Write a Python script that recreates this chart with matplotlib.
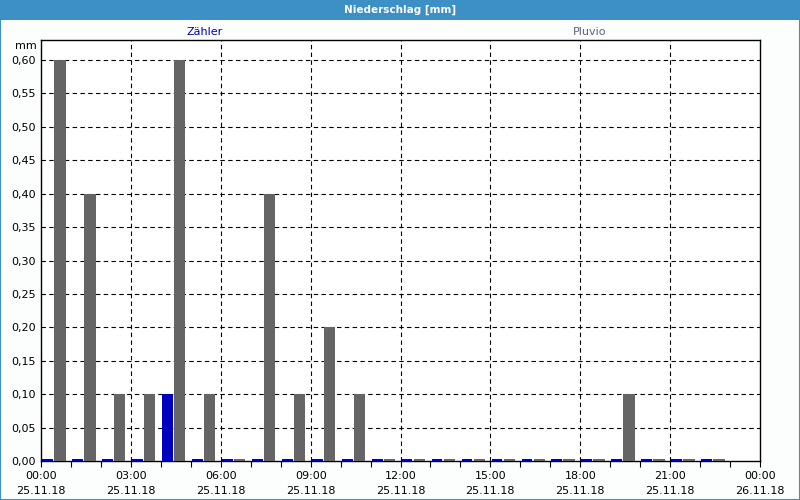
import numpy as np
import matplotlib
matplotlib.use('Agg')
import matplotlib.pyplot as plt
from matplotlib.patches import Rectangle
from matplotlib.ticker import FixedLocator, MultipleLocator, FuncFormatter

# hourly precipitation 25.11.18, mm (nan = no data)
hours = np.arange(24)
zaehler = [0.0, 0.0, 0.0, 0.0, 0.1, 0.0, 0.0, 0.0, 0.0, 0.0, 0.0, 0.0,
           0.0, 0.0, 0.0, 0.0, 0.0, 0.0, 0.0, 0.0, 0.0, 0.0, 0.0, np.nan]
pluvio = [0.6, 0.4, 0.1, 0.1, 0.6, 0.1, 0.0, 0.4, 0.1, 0.2, 0.1, 0.0,
          0.0, 0.0, 0.0, 0.0, 0.0, 0.0, 0.0, 0.1, 0.0, 0.0, 0.0, np.nan]
xtick_pos = [0, 3, 6, 9, 12, 15, 18, 21, 24]
xtick_labels = ['00:00\n25.11.18', '03:00\n25.11.18', '06:00\n25.11.18',
                '09:00\n25.11.18', '12:00\n25.11.18', '15:00\n25.11.18',
                '18:00\n25.11.18', '21:00\n25.11.18', '00:00\n26.11.18']

plt.rcParams['font.family'] = 'DejaVu Sans'
plt.rcParams['font.size'] = 8

fig = plt.figure(figsize=(8, 5), dpi=100, facecolor='#fcfdfd')
ax = fig.add_axes([41/800, 1 - 461/500, 719/800, 421/500])

# zero values still show as a thin sliver like in the original tool
z = np.array(zaehler)
p = np.array(pluvio)
zh = np.where(np.isnan(z), np.nan, np.maximum(z, 0.003))
ph = np.where(np.isnan(p), np.nan, np.maximum(p, 0.003))
ax.bar(hours + 0.22, zh, width=0.36, color='#0000c0', zorder=3)
ax.bar(hours + 0.63, ph, width=0.38, color='#656565', zorder=3)

ax.set_xlim(0, 24)
ax.set_ylim(0, 0.63)
ax.set_facecolor('white')
ax.set_axisbelow(True)

ax.xaxis.set_major_locator(FixedLocator(xtick_pos))
ax.set_xticklabels(xtick_labels, linespacing=1.6)
ax.xaxis.set_minor_locator(MultipleLocator(1))
ax.tick_params(axis='x', which='both', length=4, width=0.8, pad=3, labelsize=8)
ax.yaxis.set_major_locator(FixedLocator(np.arange(0, 0.61, 0.05)))
ax.yaxis.set_major_formatter(FuncFormatter(lambda v, pos: ('%.2f' % v).replace('.', ',')))
ax.tick_params(axis='y', length=0, pad=4, labelsize=8)

for v in np.arange(0.05, 0.61, 0.05):
    ax.axhline(v, color='black', lw=0.8, ls=(0, (4, 3)), zorder=1)
for h in range(3, 24, 3):
    ax.axvline(h, color='black', lw=0.8, ls=(0, (4, 3)), zorder=1)
for s in ax.spines.values():
    s.set_linewidth(1.0)

fig.text(37/800, 1 - 46/500, 'mm', ha='right', va='center', fontsize=8)
fig.text(205/800, 1 - 32/500, 'Zähler', color='#0000c0', ha='center', va='center', fontsize=8)
fig.text(590/800, 1 - 32/500, 'Pluvio', color='#606080', ha='center', va='center', fontsize=8)

# title bar and frame
fig.patches.append(Rectangle((0, 1 - 20/500), 1, 20/500, transform=fig.transFigure,
                             facecolor='#3c90c6', edgecolor='none', zorder=0))
fig.patches.append(Rectangle((0, 0), 1, 1, transform=fig.transFigure, fill=False,
                             edgecolor='#3c90c6', linewidth=1.5, zorder=0))
fig.text(0.5, 1 - 10/500, 'Niederschlag [mm]', color='white', fontweight='bold',
         ha='center', va='center', fontsize=7.5)

fig.savefig('out.png', dpi=100, facecolor=fig.get_facecolor())
